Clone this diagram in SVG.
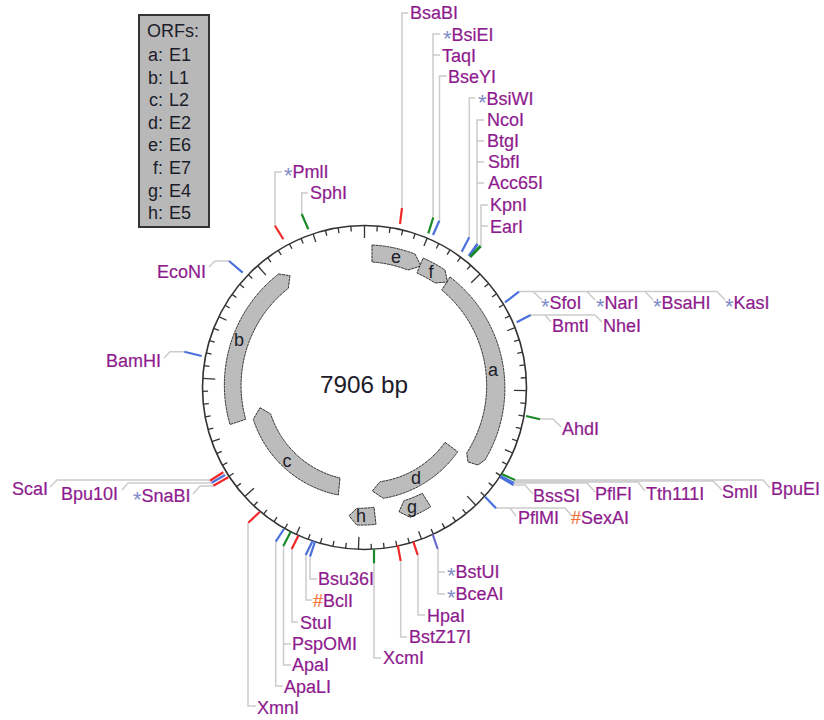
<svg xmlns="http://www.w3.org/2000/svg" width="824" height="720" viewBox="0 0 824 720">
<style>
text{font-family:"Liberation Sans",Arial,sans-serif;font-size:18px}
.l{fill:#8e1b8e;stroke:#8e1b8e;stroke-width:.2}
.s{fill:#7f8cc8;stroke:none;font-size:22px}
.h{fill:#f4733c;stroke:#f4733c}
.k{fill:#1c1c2a}
.leader{fill:none;stroke:#cccccc;stroke-width:1.5}
.m{fill:none;stroke-width:2.2}
.r{stroke:#f02828}.b{stroke:#4a70dc}.g{stroke:#1a8a2a}.p{stroke:#6c6cd0}
.orf{fill:#bcbcbc;stroke:#333;stroke-width:1;stroke-dasharray:3 .6}
.t1{stroke:#333;stroke-width:1.3}
</style>
<defs>
<line id="a" class="t1" x1="364.5" y1="225.5" x2="364.5" y2="231"/>
<line id="f" class="t1" x1="364.5" y1="225.5" x2="364.5" y2="234"/>
<line id="M" class="t1" x1="364.5" y1="225.5" x2="364.5" y2="238"/>
</defs>
<g id="legend">
<rect x="139" y="15" width="70" height="212" fill="#b8b8b8" stroke="#333" stroke-width="2"/>
<text class="k" x="147" y="37">ORFs:</text>
<g class="k" text-anchor="end">
<text class="k" x="163" y="61">a:</text><text class="k" x="163" y="84">b:</text><text class="k" x="163" y="106">c:</text><text class="k" x="163" y="129">d:</text><text class="k" x="163" y="151">e:</text><text class="k" x="163" y="174">f:</text><text class="k" x="163" y="197">g:</text><text class="k" x="163" y="219">h:</text>
</g>
<text class="k" x="169" y="61">E1</text><text class="k" x="169" y="84">L1</text><text class="k" x="169" y="106">L2</text><text class="k" x="169" y="129">E2</text><text class="k" x="169" y="151">E6</text><text class="k" x="169" y="174">E7</text><text class="k" x="169" y="197">E4</text><text class="k" x="169" y="219">E5</text>
</g>
<g id="plasmid">
<circle cx="364.5" cy="387.5" r="162" fill="none" stroke="#333" stroke-width="1.6"/>
<g id="ticks">
<use href="#M"/><use href="#a" transform="rotate(4.55 364.5 387.5)"/><use href="#a" transform="rotate(9.11 364.5 387.5)"/><use href="#a" transform="rotate(13.66 364.5 387.5)"/><use href="#a" transform="rotate(18.21 364.5 387.5)"/><use href="#f" transform="rotate(22.77 364.5 387.5)"/><use href="#a" transform="rotate(27.32 364.5 387.5)"/><use href="#a" transform="rotate(31.87 364.5 387.5)"/><use href="#a" transform="rotate(36.43 364.5 387.5)"/><use href="#a" transform="rotate(40.98 364.5 387.5)"/><use href="#M" transform="rotate(45.54 364.5 387.5)"/><use href="#a" transform="rotate(50.09 364.5 387.5)"/><use href="#a" transform="rotate(54.64 364.5 387.5)"/><use href="#a" transform="rotate(59.2 364.5 387.5)"/><use href="#a" transform="rotate(63.75 364.5 387.5)"/><use href="#f" transform="rotate(68.3 364.5 387.5)"/><use href="#a" transform="rotate(72.86 364.5 387.5)"/><use href="#a" transform="rotate(77.41 364.5 387.5)"/><use href="#a" transform="rotate(81.96 364.5 387.5)"/><use href="#a" transform="rotate(86.52 364.5 387.5)"/><use href="#M" transform="rotate(91.07 364.5 387.5)"/><use href="#a" transform="rotate(95.62 364.5 387.5)"/><use href="#a" transform="rotate(100.18 364.5 387.5)"/><use href="#a" transform="rotate(104.73 364.5 387.5)"/><use href="#a" transform="rotate(109.28 364.5 387.5)"/><use href="#f" transform="rotate(113.84 364.5 387.5)"/><use href="#a" transform="rotate(118.39 364.5 387.5)"/><use href="#a" transform="rotate(122.94 364.5 387.5)"/><use href="#a" transform="rotate(127.5 364.5 387.5)"/><use href="#a" transform="rotate(132.05 364.5 387.5)"/><use href="#M" transform="rotate(136.6 364.5 387.5)"/><use href="#a" transform="rotate(141.16 364.5 387.5)"/><use href="#a" transform="rotate(145.71 364.5 387.5)"/><use href="#a" transform="rotate(150.26 364.5 387.5)"/><use href="#a" transform="rotate(154.82 364.5 387.5)"/><use href="#f" transform="rotate(159.37 364.5 387.5)"/><use href="#a" transform="rotate(163.92 364.5 387.5)"/><use href="#a" transform="rotate(168.48 364.5 387.5)"/><use href="#a" transform="rotate(173.03 364.5 387.5)"/><use href="#a" transform="rotate(177.58 364.5 387.5)"/><use href="#M" transform="rotate(182.14 364.5 387.5)"/><use href="#a" transform="rotate(186.69 364.5 387.5)"/><use href="#a" transform="rotate(191.24 364.5 387.5)"/><use href="#a" transform="rotate(195.8 364.5 387.5)"/><use href="#a" transform="rotate(200.35 364.5 387.5)"/><use href="#f" transform="rotate(204.9 364.5 387.5)"/><use href="#a" transform="rotate(209.46 364.5 387.5)"/><use href="#a" transform="rotate(214.01 364.5 387.5)"/><use href="#a" transform="rotate(218.56 364.5 387.5)"/><use href="#a" transform="rotate(223.12 364.5 387.5)"/><use href="#M" transform="rotate(227.67 364.5 387.5)"/><use href="#a" transform="rotate(232.22 364.5 387.5)"/><use href="#a" transform="rotate(236.78 364.5 387.5)"/><use href="#a" transform="rotate(241.33 364.5 387.5)"/><use href="#a" transform="rotate(245.88 364.5 387.5)"/><use href="#f" transform="rotate(250.44 364.5 387.5)"/><use href="#a" transform="rotate(254.99 364.5 387.5)"/><use href="#a" transform="rotate(259.54 364.5 387.5)"/><use href="#a" transform="rotate(264.1 364.5 387.5)"/><use href="#a" transform="rotate(268.65 364.5 387.5)"/><use href="#M" transform="rotate(273.2 364.5 387.5)"/><use href="#a" transform="rotate(277.76 364.5 387.5)"/><use href="#a" transform="rotate(282.31 364.5 387.5)"/><use href="#a" transform="rotate(286.86 364.5 387.5)"/><use href="#a" transform="rotate(291.42 364.5 387.5)"/><use href="#f" transform="rotate(295.97 364.5 387.5)"/><use href="#a" transform="rotate(300.52 364.5 387.5)"/><use href="#a" transform="rotate(305.08 364.5 387.5)"/><use href="#a" transform="rotate(309.63 364.5 387.5)"/><use href="#a" transform="rotate(314.18 364.5 387.5)"/><use href="#M" transform="rotate(318.74 364.5 387.5)"/><use href="#a" transform="rotate(323.29 364.5 387.5)"/><use href="#a" transform="rotate(327.84 364.5 387.5)"/><use href="#a" transform="rotate(332.4 364.5 387.5)"/><use href="#a" transform="rotate(336.95 364.5 387.5)"/><use href="#f" transform="rotate(341.5 364.5 387.5)"/><use href="#a" transform="rotate(346.06 364.5 387.5)"/><use href="#a" transform="rotate(350.61 364.5 387.5)"/><use href="#a" transform="rotate(355.16 364.5 387.5)"/>
</g>
<text x="364" y="393" text-anchor="middle" class="k" style="font-size:24.3px">7906 bp</text>
</g>
<g id="orfs">
<g id="orf-a"><path class="orf" d="M450,277 A140 140 0 0 1 485,460 L478,465 L468,462 L466.7,453 A124 124 0 0 0 441.7,290 Z"/><text class="k" x="493" y="376" text-anchor="middle">a</text></g>
<g id="orf-b"><path class="orf" d="M278.5,274 L290,275.7 L288.3,288.3 A124 124 0 0 0 245.7,419.3 L230,424.5 A141 141 0 0 1 278.5,274 Z"/><text class="k" x="239" y="346" text-anchor="middle">b</text></g>
<g id="orf-c"><path class="orf" d="M260,407.7 L270.7,414 A96 96 0 0 0 340,478 L338.3,495 A112 112 0 0 1 253.3,419.3 Z"/><text class="k" x="287" y="467" text-anchor="middle">c</text></g>
<g id="orf-d"><path class="orf" d="M445,442.3 L457.7,451.7 A113 113 0 0 1 383.3,498.3 L372.3,491 L380,481.7 A96 96 0 0 0 445,442.3 Z"/><text class="k" x="416" y="484" text-anchor="middle">d</text></g>
<g id="orf-e"><path class="orf" d="M372,245 A142 142 0 0 1 415,254 L421,266 L408,270 A126 126 0 0 0 372,262 Z"/><text class="k" x="396" y="263" text-anchor="middle">e</text></g>
<g id="orf-f"><path class="orf" d="M423,258 A142 142 0 0 1 445,270 L447.5,282 L435,283 A126 126 0 0 0 417,273 Z"/><text class="k" x="431" y="278" text-anchor="middle">f</text></g>
<g id="orf-g"><path class="orf" d="M422.3,493.3 L430.7,506.7 A136 136 0 0 1 410,517.3 L399,511.7 L404,500.7 A120 120 0 0 0 422.3,493.3 Z"/><text class="k" x="412" y="513" text-anchor="middle">g</text></g>
<g id="orf-h"><path class="orf" d="M349,515.7 L356.7,508.3 A120 120 0 0 0 374,507.3 L376,524.3 A137 137 0 0 1 356.7,525 Z"/><text class="k" x="361" y="522" text-anchor="middle">h</text></g>
</g>
<g id="connectors">
<g class="leader">
<path d="M402,208V13H408"/>
<path d="M433,217V34H440M433,55H440"/>
<path d="M439.5,221V76H447"/>
<path d="M469.3,237V98H475"/>
<path d="M477,245V120H484M477,141H484M477,162H484M477,183H484"/>
<path d="M481,246V205H488M481,226H488"/>
<path d="M519,291.5H717L725,300M533,291.5L542,300M587,291.5L595,300M645,291.5L653,300"/>
<path d="M530.7,315H595L602,322M545,315L551,322"/>
<path d="M540,419H553L561,427"/>
<path d="M515,480H763L770,488"/>
<path d="M514,481H713L722,490"/>
<path d="M514,482H638L645,491"/>
<path d="M514,483H587L595,492"/>
<path d="M513,485H525L533,494"/>
<path d="M496,508H565L572,516M510,508L516,516"/>
<path d="M248,523V706H256"/>
<path d="M275.7,542V686H283"/>
<path d="M283.5,546V665H291M283.5,644H291"/>
<path d="M292,549V622H298"/>
<path d="M306,555V600H312"/>
<path d="M310,557V579H317"/>
<path d="M374,563V658H381"/>
<path d="M400.7,561V637H407"/>
<path d="M418,555V615H425"/>
<path d="M438,549V594H445M438,572H445"/>
<path d="M210,480H57L50,487"/>
<path d="M212,483H128L122,490"/>
<path d="M213,486H200L193,494"/>
<path d="M275,226V172H282"/>
<path d="M301.7,214V193H308"/>
<path d="M229,261H215L209,267"/>
<path d="M184,351.7H170L164,358"/>
</g>
<g class="m">
<path class="r" d="M400,224L402,208"/>
<path class="g" d="M428.3,233.3L433.3,217.3"/>
<path class="b" d="M433,235L439.3,220.7"/>
<path class="b" d="M461.7,251.7L469.3,237.3"/>
<path class="b" d="M469,256L477.5,244" stroke-width="3"/>
<path class="g" d="M470,257L480.7,246" stroke-width="3"/>
<path class="b" d="M505,302.3L519,291.7"/>
<path class="b" d="M516.7,322.3L530.7,315"/>
<path class="g" d="M526,416L540,419.3"/>
<path class="b" d="M500,477L513.3,485"/>
<path class="b" d="M500.5,476L514,483"/>
<path class="g" d="M501.7,474L515,480"/>
<path class="b" d="M485,496.7L496,508.3"/>
<path class="r" d="M260,511.7L248.3,522.7"/>
<path class="b" d="M284,529L275.7,541.7"/>
<path class="g" d="M290.7,531.7L283.3,546"/>
<path class="r" d="M298.3,535.7L291.7,549"/>
<path class="b" d="M312.7,540.7L305.7,555"/>
<path class="b" d="M315,541.7L310,556.7"/>
<path class="g" d="M374,549.3V563.3"/>
<path class="r" d="M397.7,545L400.7,561"/>
<path class="r" d="M413.3,541.7L417.7,555"/>
<path class="p" d="M432.7,534.3L437.7,549"/>
<path class="r" d="M210,480.7L223.3,472.3"/>
<path class="b" d="M211.7,482.7L225,475"/>
<path class="r" d="M213.3,485.7L228.3,477.3"/>
<path class="r" d="M275,225.7L283.3,239.3"/>
<path class="g" d="M301.7,214L308.3,229.3"/>
<path class="b" d="M229,261L242.7,272.7"/>
<path class="b" d="M184.3,351.7L201.7,356"/>
</g>
</g>
<g id="sites">
<text id="BsaBI" class="l" x="410" y="19">BsaBI</text>
<text id="BsiEI" class="l" x="443" y="41"><tspan class="s" dy="5">*</tspan><tspan dy="-5">BsiEI</tspan></text>
<text id="TaqI" class="l" x="442" y="62">TaqI</text>
<text id="BseYI" class="l" x="448" y="83">BseYI</text>
<text id="BsiWI" class="l" x="478" y="105"><tspan class="s" dy="5">*</tspan><tspan dy="-5">BsiWI</tspan></text>
<text id="NcoI" class="l" x="487" y="126">NcoI</text>
<text id="BtgI" class="l" x="487" y="147">BtgI</text>
<text id="SbfI" class="l" x="488" y="168">SbfI</text>
<text id="Acc65I" class="l" x="488" y="189">Acc65I</text>
<text id="KpnI" class="l" x="490" y="211">KpnI</text>
<text id="EarI" class="l" x="490" y="233">EarI</text>
<text id="SfoI" class="l" x="541" y="309"><tspan class="s" dy="5">*</tspan><tspan dy="-5">SfoI</tspan></text>
<text id="NarI" class="l" x="596" y="309"><tspan class="s" dy="5">*</tspan><tspan dy="-5">NarI</tspan></text>
<text id="BsaHI" class="l" x="653" y="309"><tspan class="s" dy="5">*</tspan><tspan dy="-5">BsaHI</tspan></text>
<text id="KasI" class="l" x="725" y="309"><tspan class="s" dy="5">*</tspan><tspan dy="-5">KasI</tspan></text>
<text id="BmtI" class="l" x="552" y="332">BmtI</text>
<text id="NheI" class="l" x="603" y="332">NheI</text>
<text id="AhdI" class="l" x="562" y="435">AhdI</text>
<text id="BssSI" class="l" x="533" y="502">BssSI</text>
<text id="PflFI" class="l" x="595" y="500">PflFI</text>
<text id="Tth111I" class="l" x="646" y="500">Tth111I</text>
<text id="SmlI" class="l" x="722" y="498">SmlI</text>
<text id="BpuEI" class="l" x="771" y="495">BpuEI</text>
<text id="PflMI" class="l" x="518" y="524">PflMI</text>
<text id="SexAI" class="l" x="571" y="524"><tspan class="h">#</tspan>SexAI</text>
<text id="XmnI" class="l" x="257" y="714">XmnI</text>
<text id="ApaLI" class="l" x="284" y="693">ApaLI</text>
<text id="ApaI" class="l" x="292" y="671">ApaI</text>
<text id="PspOMI" class="l" x="292" y="650">PspOMI</text>
<text id="StuI" class="l" x="300" y="629">StuI</text>
<text id="BclI" class="l" x="313" y="607"><tspan class="h">#</tspan>BclI</text>
<text id="Bsu36I" class="l" x="318" y="585">Bsu36I</text>
<text id="XcmI" class="l" x="383" y="664">XcmI</text>
<text id="BstZ17I" class="l" x="409" y="643">BstZ17I</text>
<text id="HpaI" class="l" x="427" y="622">HpaI</text>
<text id="BstUI" class="l" x="447" y="578"><tspan class="s" dy="5">*</tspan><tspan dy="-5">BstUI</tspan></text>
<text id="BceAI" class="l" x="447" y="600"><tspan class="s" dy="5">*</tspan><tspan dy="-5">BceAI</tspan></text>
<text id="ScaI" class="l" x="12" y="495">ScaI</text>
<text id="Bpu10I" class="l" x="61" y="500">Bpu10I</text>
<text id="SnaBI" class="l" x="133" y="502"><tspan class="s" dy="5">*</tspan><tspan dy="-5">SnaBI</tspan></text>
<text id="PmlI" class="l" x="284" y="178"><tspan class="s" dy="5">*</tspan><tspan dy="-5">PmlI</tspan></text>
<text id="SphI" class="l" x="310" y="199">SphI</text>
<text id="EcoNI" class="l" x="157" y="278">EcoNI</text>
<text id="BamHI" class="l" x="106" y="367">BamHI</text>
</g>
</svg>
